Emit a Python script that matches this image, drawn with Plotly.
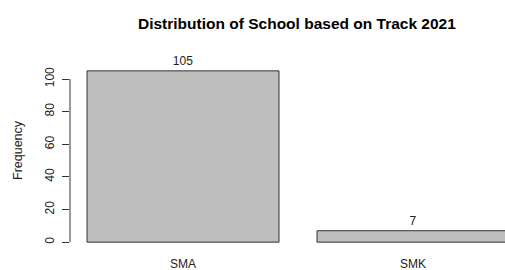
import plotly.graph_objects as go

categories = ["SMA", "SMK"]
frequency = [105, 7]
y_ticks = [0, 20, 40, 60, 80, 100]

FONT = "Liberation Sans, Arial, sans-serif"

FW, FH = 505, 270
L, T, R, B = 70, 64, 505, 249
W, H = R - L, B - T
C0 = 183  # x pixel of first category centre
STEP = 230  # pixels between category centres

fig = go.Figure()
fig.add_trace(go.Bar(
    x=categories, y=frequency,
    marker=dict(color="#BEBEBE", line=dict(color="#333333", width=1)),
    text=[str(v) for v in frequency], textposition="outside",
    textfont=dict(size=12, color="#222222", family=FONT),
    cliponaxis=False,
))

fig.update_layout(
    width=FW, height=FH,
    margin=dict(l=L, r=FW - R, t=T, b=FH - B, autoexpand=False),
    paper_bgcolor="white", plot_bgcolor="white",
    bargap=1 - 192 / STEP,
    showlegend=False,
    font=dict(family=FONT, size=12, color="#222222"),
    xaxis=dict(
        type="category", range=[(L - C0) / STEP, (R - C0) / STEP],
        showline=False, showgrid=False, zeroline=False, ticks="",
        automargin=False,
        ticklabelstandoff=6, tickfont=dict(size=12, color="#222222"),
    ),
    yaxis=dict(
        range=[-4.2, 109.2], showline=False, showgrid=False, zeroline=False,
        automargin=False,
        tickmode="array", tickvals=y_ticks, ticktext=[str(t) for t in y_ticks],
        ticks="outside", ticklen=7, tickcolor="#333333", tickangle=-90,
        ticklabelstandoff=3, tickfont=dict(size=12, color="#222222"),
    ),
    shapes=[dict(type="line", xref="paper", yref="y", x0=0, x1=0,
                 y0=y_ticks[0], y1=y_ticks[-1],
                 line=dict(color="#333333", width=1))],
    annotations=[
        dict(text="<b>Distribution of School based on Track 2021</b>",
             xref="paper", yref="paper", x=(297 - L) / W, y=(B - 23) / H,
             showarrow=False, font=dict(size=15.5, color="#000000", family=FONT),
             xanchor="center", yanchor="middle"),
        dict(text="Frequency", xref="paper", yref="paper",
             x=-(L - 18) / W, y=(B - 150) / H, textangle=-90,
             showarrow=False, font=dict(size=12.5, color="#222222", family=FONT),
             xanchor="center", yanchor="middle"),
    ],
)

fig.write_html(
    "out.html",
    config={"displayModeBar": False},
    post_script="document.body.style.margin='0';"
                "document.documentElement.style.overflow='hidden';"
                "document.body.style.overflow='hidden';",
)
